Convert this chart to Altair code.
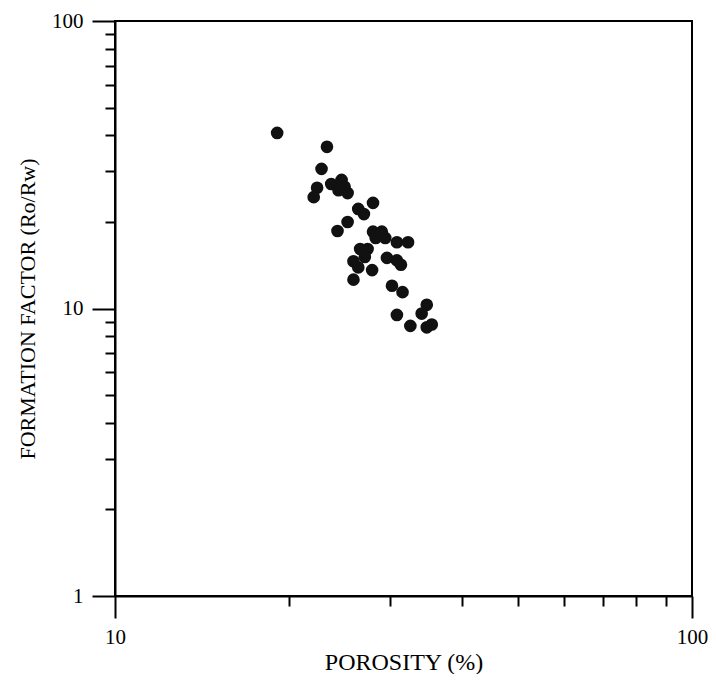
import altair as alt
import pandas as pd

porosity = [19.1, 23.3, 22.8, 22.4, 22.1, 23.7, 24.7, 24.4, 25.3, 25.0,
            28.0, 26.4, 27.0, 25.3, 24.3, 28.0, 29.0, 29.4, 30.8, 32.2,
            28.3, 26.6, 27.4, 27.1, 25.9, 26.4, 27.9, 25.9, 29.6, 30.8,
            31.3, 30.2, 31.5, 34.7, 34.0, 30.8, 32.5, 34.7, 35.4]
formation_factor = [40.8, 36.5, 30.6, 26.3, 24.4, 27.1, 28.0, 25.8, 25.2, 26.5,
                    23.3, 22.2, 21.3, 20.0, 18.6, 18.5, 18.5, 17.6, 17.0, 17.0,
                    17.6, 16.1, 16.1, 15.1, 14.6, 13.9, 13.6, 12.6, 15.0, 14.7,
                    14.2, 12.0, 11.4, 10.3, 9.6, 9.5, 8.7, 8.6, 8.8]

x_ticks = [10, 20, 30, 40, 50, 60, 70, 80, 90, 100]
y_ticks = [1, 2, 3, 4, 5, 6, 7, 8, 9, 10, 20, 30, 40, 50, 60, 70, 80, 90, 100]

df = pd.DataFrame({"porosity": porosity, "ff": formation_factor})

major = "datum.value == 1 || datum.value == 10 || datum.value == 100"
FONT = "Liberation Serif"

x_axis = alt.Axis(
    values=x_ticks,
    labelExpr="(datum.value == 10 || datum.value == 100) ? datum.label : ''",
    grid=False,
    tickSize={"condition": {"test": major, "value": 22}, "value": 10},
    tickWidth=2, tickColor="black",
    domainColor="black", domainWidth=2,
    labelFont=FONT, labelFontSize=21, labelColor="black", labelPadding=8,
    labelFlush=False, labelOverlap=False,
    title="POROSITY (%)", titleFont=FONT, titleFontSize=24, titleFontWeight="normal",
    titleColor="black", titleBaseline="alphabetic", titleY=73,
)
y_axis = alt.Axis(
    values=y_ticks,
    labelExpr="(datum.value == 1 || datum.value == 10 || datum.value == 100) ? datum.label : ''",
    grid=False,
    tickSize={"condition": {"test": major, "value": 23}, "value": 10},
    tickWidth=2, tickColor="black",
    domainColor="black", domainWidth=2,
    labelFont=FONT, labelFontSize=21, labelColor="black", labelPadding=9,
    labelFlush=False, labelOverlap=False,
    title="FORMATION FACTOR (Ro/Rw)", titleFont=FONT, titleFontSize=22,
    titleFontWeight="normal", titleColor="black", titleBaseline="middle", titleX=-88,
)

chart = alt.Chart(df).mark_circle(size=160, color="#111111", opacity=1).encode(
    x=alt.X("porosity:Q", scale=alt.Scale(type="log", domain=[10, 100], nice=False), axis=x_axis),
    y=alt.Y("ff:Q", scale=alt.Scale(type="log", domain=[1, 100], nice=False), axis=y_axis),
).properties(
    width=577, height=575,
    autosize=alt.AutoSizeParams(type="none"),
    padding={"left": 107, "top": 13, "right": 16, "bottom": 78},
    background="white",
).configure_view(
    stroke="black", strokeWidth=2
)

chart.save("out.html", embed_options={"renderer": "svg", "actions": False})
